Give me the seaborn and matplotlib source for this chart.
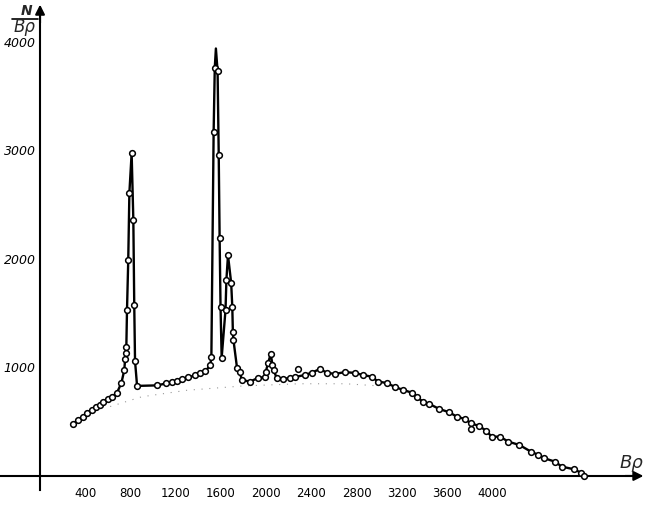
import numpy as np
import pandas as pd
import matplotlib
matplotlib.use('Agg')
import matplotlib.pyplot as plt
import matplotlib.lines as mlines
import seaborn as sns

# Daten aus dem Spektrum (Bρ gegen N/Bρ)
br = [290, 335, 380, 415, 460, 495, 530, 555, 600, 635, 680, 720, 745, 752, 758, 763,
      769, 780, 790, 810, 825, 833, 840, 858,
      1035, 1115, 1165, 1210, 1255, 1310, 1370, 1415, 1460, 1505, 1515,
      1535, 1545, 1570, 1580, 1588, 1596, 1606,
      1640, 1648, 1662, 1690, 1700, 1705, 1710, 1742, 1768, 1783, 1857, 1927,
      1989, 1996, 2016, 2040, 2055, 2065, 2093, 2149, 2210, 2255, 2343, 2402,
      2476, 2535, 2608, 2697, 2785, 2856, 2933, 2989, 3065, 3139, 3210, 3287,
      3331, 3384, 3442, 3531, 3619, 3684, 3758, 3808, 3882, 3943, 3994, 4067,
      4141, 4238, 4341, 4406, 4459, 4554, 4613, 4721, 4783, 4813]
n = [480, 515, 545, 580, 610, 635, 655, 680, 710, 730, 765, 860, 975, 1075, 1135, 1185,
     1530, 1990, 2610, 2975, 2360, 1580, 1060, 830,
     835, 853, 862, 872, 890, 908, 927, 945, 963, 1020, 1095,
     3170, 3760, 3730, 2960, 2190, 1560, 1090,
     1530, 1810, 2035, 1780, 1560, 1330, 1255, 995, 958, 885, 870, 903,
     912, 960, 1040, 1125, 1025, 975, 903, 895, 903, 912, 931, 952,
     986, 952, 940, 958, 949, 931, 915, 870, 857, 820, 793, 768,
     731, 685, 664, 617, 587, 547, 525, 486, 461, 418, 362, 362,
     316, 286, 224, 194, 163, 132, 86, 62, 30, 0]

# Spitze des zweiten Peaks (nur Linie)
apex_br = [1555]
apex_n = [3940]

# Einzelpunkte neben der Kurve
off_br = [2281, 3811]
off_n = [986, 430]

# Untergrund (punktiert)
bg_br = [620, 900, 1300, 1800, 2300, 2700, 3000]
bg_n = [640, 730, 790, 830, 850, 850, 830]

xticks = [400, 800, 1200, 1600, 2000, 2400, 2800, 3200, 3600, 4000, 4400, 4800]
xlabels = ['400', '800', '1200', '1600', '2000', '2400', '2800', '3200', '3600', '4000', '', '']
yticks = [1000, 2000, 3000, 4000]

sns.set_style('white')
plt.rcParams['font.family'] = ['DejaVu Sans']

line = pd.DataFrame({'br': br + apex_br, 'n': n + apex_n}).sort_values('br', kind='stable')
pts = pd.DataFrame({'br': br + off_br, 'n': n + off_n})

W, H = 672, 516
fig = plt.figure(figsize=(W / 100, H / 100), dpi=100)
ax = fig.add_axes([0, 0, 1, 1])

sns.lineplot(x=bg_br, y=bg_n, color='0.6', lw=0.8, linestyle=(0, (1, 6)), ax=ax)
sns.lineplot(data=line, x='br', y='n', sort=False, color='black', lw=1.7, ax=ax)
sns.scatterplot(data=pts, x='br', y='n', marker='o', s=17, facecolor='white',
                edgecolor='black', linewidth=1.1, zorder=3, ax=ax)

ax.set_xlim(-354, 5588)
ax.set_ylim(-369, 4387)

# Achsen wie im Original: durch den Nullpunkt, mit Pfeilen
for side in ['top', 'right']:
    ax.spines[side].set_visible(False)
ax.spines['left'].set_position(('data', 0))
ax.spines['bottom'].set_position(('data', 0))
ax.spines['left'].set_bounds(-130, 4250)
ax.spines['bottom'].set_bounds(-354, 5250)
for side in ['left', 'bottom']:
    ax.spines[side].set_linewidth(1.5)
    ax.spines[side].set_color('black')
ax.annotate('', xy=(0, 4370), xytext=(0, 4150),
            arrowprops=dict(arrowstyle='-|>', color='black', lw=1.5, mutation_scale=14))
ax.annotate('', xy=(5360, 0), xytext=(5150, 0),
            arrowprops=dict(arrowstyle='-|>', color='black', lw=1.5, mutation_scale=14))

ax.set_xticks(xticks)
ax.set_xticklabels(xlabels, family=['Liberation Sans Narrow', 'DejaVu Sans'], fontsize=8.5)
ax.set_yticks(yticks)
ax.set_yticklabels([str(v) for v in yticks], style='italic', fontsize=9)
ax.tick_params(axis='x', direction='in', length=4, width=1, pad=8, colors='black')
ax.tick_params(axis='y', direction='in', length=4, width=1, pad=3, colors='black')
ax.set_xlabel('')
ax.set_ylabel('')

# Achsenbeschriftung N / Bρ als Bruch
fig.text(27 / W, 1 - 11 / H, 'N', style='italic', weight='bold', fontsize=10,
         ha='center', va='center')
fig.add_artist(mlines.Line2D([12 / W, 38 / W], [1 - 19 / H, 1 - 19 / H],
                             color='black', lw=1.2))
fig.text(24 / W, 1 - 27 / H, 'Bρ', style='italic', fontsize=12,
         ha='center', va='center')
ax.text(5230, 40, 'Bρ', style='italic', fontsize=13, ha='center', va='bottom')

plt.savefig('out.png', dpi=100)
plt.close()
